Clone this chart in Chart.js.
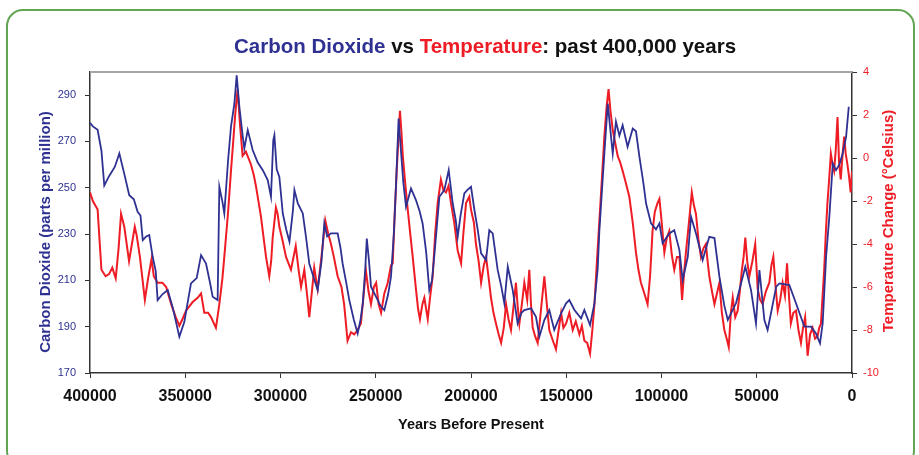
<!DOCTYPE html>
<html>
<head>
<meta charset="utf-8">
<script src="https://cdn.jsdelivr.net/npm/chart.js@4.4.1/dist/chart.umd.min.js"></script>
<style>
  html, body { margin: 0; padding: 0; background: #fff; }
  #wrap { position: relative; width: 919px; height: 455px; overflow: hidden; }
  #frame {
    position: absolute; left: 6px; top: 9px; width: 905px; height: 455px;
    border: 2px solid #62a553; border-radius: 17px; pointer-events: none;
  }
</style>
</head>
<body>
<div id="wrap">
  <canvas id="chart" width="919" height="455"></canvas>
  <div id="frame"></div>
</div>
<script>
// CO2 (ppm)
const co2Years = [
  400000, 398500, 396000, 394000, 392500, 390000, 387000, 384600, 382000, 379400,
  377000, 375000, 373500, 372300, 370500, 368900, 367100, 365500, 364500, 362000,
  359200, 356500, 353100, 350500, 347000, 344000, 341700, 339100, 337000, 335600,
  333000, 332100, 330500, 329500, 327500, 326000, 324200, 323000, 321600, 319900,
  319000, 317200, 314600, 312000, 309300, 306700, 305000, 303800, 303200, 302000,
  300600, 298800, 297000, 295300, 293500, 292700, 290900, 288300, 286500, 284900,
  282500, 280500, 278500, 277000, 275500, 273500, 270000, 268500, 267400, 265500,
  263900, 261500, 259500, 258000, 256800, 255500, 254700, 253500, 252500, 249800,
  247500, 245500, 243500, 242000, 240500, 239400, 238000, 236800, 235500, 234100,
  231500, 228900, 227000, 225400, 223500, 221900, 220500, 219300, 216600, 214000,
  211700, 209600, 208000, 207000, 205500, 203500, 202000, 200000, 198200, 196500,
  194700, 192100, 190400, 188600, 186000, 184000, 182500, 180700, 178100, 175500,
  173500, 172000, 168500, 165900, 164100, 161500, 158900, 156300, 152700, 150100,
  148400, 145700, 142200, 140500, 137500, 135200, 133500, 132600, 130000, 128200,
  127000, 125600, 123900, 122100, 120400, 117800, 115100, 113400, 111600, 109500,
  108100, 105500, 102900, 101100, 99400, 95900, 93300, 90600, 88900, 86200,
  84500, 81900, 78400, 74900, 72200, 69600, 67000, 65200, 60900, 56000,
  53000, 50400, 48600, 46000, 44300, 42000, 39800, 38100, 32900, 29400,
  25000, 21500, 18900, 16800, 15400, 13600, 11900, 10100, 8400, 6600,
  4900, 3100, 1700
];
const co2Values = [
  278, 276.5, 275, 266, 251, 255, 259, 264.8, 256, 246.8,
  245, 239.6, 238, 227.4, 229, 229.6, 220.2, 214, 201.5, 204,
  205.8, 198, 185.7, 192, 208.7, 211, 220.9, 217.3, 209, 202.9,
  201.5, 250.4, 244, 238.9, 262, 276.3, 286.4, 298.6, 285, 272.7,
  267, 274.9, 266.3, 261, 257.6, 253.3, 246.1, 270.5, 272.7, 258,
  254.7, 238.9, 232, 226.7, 240, 249, 243.2, 238.9, 228, 217.3,
  211, 205.8, 218, 234.6, 229, 230.3, 230.3, 224, 217.3, 209,
  201.5, 193, 187.1, 193, 200.1, 215, 228.1, 218, 207.3, 202.9,
  199, 197.2, 204, 211.6, 230, 250.4, 279.9, 266.3, 252, 241.8,
  249.7, 244.7, 240, 234.6, 222, 205.8, 210, 220.2, 246.1, 249,
  257.6, 243.2, 236, 228.8, 238, 247.6, 249, 250.4, 240.4, 232,
  221.7, 218.8, 231.7, 230.3, 214.5, 207, 200.1, 215.9, 205.8, 191.4,
  196, 197.2, 197.9, 194.3, 185.7, 192.9, 197.2, 188.6, 195.8, 200.1,
  201.5, 197.2, 193.6, 197.2, 190.7, 200.1, 215, 231.7, 264.8, 286.4,
  276.3, 264.8, 278.6, 272.5, 277, 267.7, 275.6, 274.4, 263.4, 252,
  243.2, 234.6, 232, 234.6, 226, 230.3, 231.7, 223.1, 210.1, 220.2,
  237.5, 230.3, 218.8, 228.8, 228.3, 211.6, 199, 192.9, 200.1, 215.9,
  205.8, 191.4, 214.5, 192.9, 188.6, 198, 207.3, 208.7, 208, 200.1,
  190, 190, 187.1, 182.8, 191.4, 220.2, 237.5, 260.5, 257.6, 260.1,
  264.8, 272, 285
];

// temperature change (°C)
const tempYears = [
  400000, 398500, 396000, 395000, 394000, 391800, 390000, 388300, 386500, 385000,
  383700, 382000, 379500, 378000, 376500, 375500, 373800, 371200, 369500, 367700,
  366500, 364500, 362000, 360000, 357400, 355000, 353100, 351500, 349600, 346100,
  343500, 341700, 340000, 338000, 336500, 333900, 332100, 330500, 329500, 327500,
  326000, 324800, 323700, 322500, 321300, 319900, 318200, 315500, 314000, 312900,
  310300, 307600, 305900, 304900, 304100, 302400, 301500, 300600, 299000, 297100,
  294500, 292000, 290500, 289200, 287500, 286000, 284900, 283500, 282300, 280500,
  278500, 276500, 275000, 273500, 272000, 270000, 268000, 266600, 264800, 263000,
  261300, 259500, 257800, 256500, 255200, 253800, 252500, 251000, 249800, 248500,
  247200, 245500, 243700, 242000, 241100, 240000, 239000, 237300, 236500, 235800,
  234500, 233200, 231800, 230600, 228900, 227800, 226800, 225500, 224500, 222700,
  221500, 220100, 218800, 217500, 215800, 214500, 213100, 211800, 210500, 208800,
  207000, 205200, 204000, 202600, 200900, 200000, 198500, 197400, 196000, 194700,
  193300, 192100, 190700, 189500, 188200, 186900, 185500, 184200, 182800, 181600,
  180300, 179000, 177800, 176400, 175500, 174600, 173300, 172000, 170500, 169400,
  168500, 167600, 166300, 165000, 163200, 161500, 160200, 158900, 157000, 155400,
  154000, 152700, 151500, 150100, 148400, 146600, 145000, 143100, 141800, 140500,
  139000, 137500, 136300, 135200, 133900, 132600, 131300, 130000, 128800, 127800,
  126800, 125600, 124300, 123000, 121700, 120400, 118600, 116900, 115100, 113400,
  112100, 110800, 109000, 107300, 106000, 104700, 103500, 102100, 101100, 100200,
  98500, 97200, 95900, 94600, 93300, 91900, 90600, 89200, 88200, 87200,
  85600, 84100, 83000, 81900, 80600, 79300, 78000, 76700, 75800, 74900,
  73500, 72200, 70900, 69600, 68300, 67000, 65800, 64700, 63600, 62600,
  61300, 60000, 58900, 57800, 56900, 56000, 55000, 53900, 52300, 50800,
  49500, 48200, 46900, 45200, 43400, 42300, 41300, 40100, 39000, 37700,
  36400, 35200, 34100, 33100, 32100, 30800, 29400, 28100, 26800, 25700,
  24600, 23300, 22000, 20700, 19400, 18100, 17200, 16300, 15500, 14600,
  13800, 12900, 12000, 11100, 10200, 9400, 8500, 7600, 6800, 5900,
  5000, 4100, 3300, 2400, 1500, 700, 0
];
const tempValues = [
  -1.6, -2.0, -2.4, -3.8, -5.2, -5.5, -5.4, -5.1, -5.6, -4.2,
  -2.6, -3.2, -4.8, -4.0, -3.2, -3.6, -4.6, -6.6, -5.6, -4.7,
  -5.5, -5.8, -5.8, -6.0, -6.8, -7.4, -7.8, -7.5, -7.1, -6.7,
  -6.5, -6.3, -7.2, -7.2, -7.4, -7.9, -6.8, -5.6, -4.6, -2.5,
  -0.6, 0.8, 2.1, 3.2, 1.6, 0.1, 0.3, -0.3, -0.8, -1.3,
  -2.7, -4.6, -5.5, -4.8, -3.7, -2.3, -2.6, -3.2, -3.8, -4.6,
  -5.2, -4.1, -5.2, -6.0, -5.2, -6.4, -7.4, -6.2, -5.1, -6.1,
  -4.6, -2.9, -3.5, -4.0, -4.6, -5.5, -6.0, -6.8, -8.5, -8.1,
  -8.2, -8.0, -7.7, -6.5, -5.2, -6.2, -6.8, -6.0, -5.8, -6.8,
  -7.2, -6.3, -5.8, -5.0, -4.9, -2.5, -0.6, 2.2, 1.2, 0.1,
  -1.2, -2.4, -3.6, -4.6, -6.1, -7.0, -7.5, -6.8, -6.5, -7.5,
  -6.5, -5.5, -3.5, -2.1, -1.0, -1.5, -1.6, -1.3, -2.1, -3.0,
  -4.3, -4.9, -3.5, -2.1, -1.8, -2.4, -3.0, -4.0, -4.8, -5.8,
  -5.0, -4.6, -5.6, -6.5, -7.2, -7.7, -8.2, -8.6, -7.9, -6.8,
  -7.5, -8.0, -7.0, -5.8, -6.9, -7.7, -6.8, -5.8, -6.6, -5.2,
  -6.8, -7.9, -8.3, -8.6, -7.0, -5.5, -6.8, -8.0, -8.5, -8.9,
  -8.0, -7.2, -7.9, -7.7, -7.2, -8.0, -7.6, -8.2, -7.8, -8.5,
  -8.6, -9.1, -8.0, -6.8, -4.8, -2.9, -1.0, 1.0, 2.4, 3.2,
  2.2, 1.3, 0.7, 0.1, -0.2, -0.6, -1.2, -1.8, -3.0, -4.4,
  -5.2, -5.8, -6.3, -6.8, -5.5, -3.4, -2.5, -2.1, -1.9, -2.7,
  -4.4, -3.7, -3.4, -4.5, -5.2, -4.6, -4.6, -6.6, -5.4, -4.4,
  -3.0, -1.6, -2.2, -2.6, -3.8, -4.6, -4.2, -4.0, -4.8, -5.5,
  -6.2, -6.8, -6.3, -5.8, -7.2, -8.0, -8.4, -8.8, -7.2, -6.5,
  -7.4, -7.1, -6.2, -5.2, -4.6, -3.7, -4.8, -5.5, -4.8, -4.0,
  -6.1, -6.6, -6.8, -6.2, -5.8, -5.0, -4.6, -6.0, -7.1, -6.6,
  -5.8, -6.4, -4.9, -6.4, -7.7, -7.2, -7.1, -8.0, -8.6, -7.9,
  -7.4, -9.2, -8.2, -7.9, -8.4, -8.3, -7.9, -7.7, -6.5, -5.2,
  -3.6, -2.1, -1.0, 0.2, -0.3, -0.6, 0.4, 1.9, -0.2, -1.0,
  0.1, 1.0, 0.2, -0.3, -0.9, -1.6, -0.6
];

const co2Ticks = [170, 190, 210, 230, 250, 270, 290];

const co2Color = '#2e3192';
const tempColor = '#ee1c25';
const axisColor = '#333333';
const fontFamily = '"Liberation Sans", Arial, sans-serif';

const titleParts = [
  ['Carbon Dioxide', co2Color],
  [' vs ', '#111'],
  ['Temperature', tempColor],
  [': past 400,000 years', '#111']
];

Chart.defaults.font.family = fontFamily;

function sideTitle(ctx, text, x, y, color) {
  ctx.save();
  ctx.translate(x, y);
  ctx.rotate(-Math.PI / 2);
  ctx.textAlign = 'center';
  ctx.textBaseline = 'middle';
  ctx.font = 'bold 15px ' + fontFamily;
  ctx.fillStyle = color;
  ctx.fillText(text, 0, 0);
  ctx.restore();
}

const decorations = {
  id: 'decorations',
  afterDraw(chart) {
    const ctx = chart.ctx;
    const area = chart.chartArea;
    ctx.save();

    // grey frame line along the top of the plot area
    ctx.strokeStyle = '#a6a6a6';
    ctx.lineWidth = 2;
    ctx.beginPath();
    ctx.moveTo(area.left, area.top);
    ctx.lineTo(area.right, area.top);
    ctx.stroke();

    // multi-coloured title
    ctx.font = 'bold 20.5px ' + fontFamily;
    ctx.textBaseline = 'middle';
    ctx.textAlign = 'left';
    let total = 0;
    titleParts.forEach(p => { total += ctx.measureText(p[0]).width; });
    let x = 485 - total / 2;
    titleParts.forEach(p => {
      ctx.fillStyle = p[1];
      ctx.fillText(p[0], x, 47);
      x += ctx.measureText(p[0]).width;
    });
    ctx.restore();

    // both axis titles read bottom-to-top
    sideTitle(ctx, 'Carbon Dioxide (parts per million)', 46, 232, co2Color);
    sideTitle(ctx, 'Temperature Change (°Celsius)', 889, 221, tempColor);
  }
};

new Chart(document.getElementById('chart'), {
  type: 'line',
  data: {
    datasets: [
      {
        label: 'Carbon Dioxide',
        data: co2Years.map((yr, i) => ({ x: yr, y: co2Values[i] })),
        yAxisID: 'y',
        borderColor: co2Color,
        borderWidth: 1.8,
        pointRadius: 0,
        tension: 0,
        order: 0
      },
      {
        label: 'Temperature',
        data: tempYears.map((yr, i) => ({ x: yr, y: tempValues[i] })),
        yAxisID: 'y2',
        borderColor: tempColor,
        borderWidth: 2,
        pointRadius: 0,
        tension: 0,
        order: 1
      }
    ]
  },
  options: {
    responsive: false,
    animation: false,
    devicePixelRatio: 1,
    layout: { padding: { top: 72, left: 0, right: 0, bottom: 0 } },
    plugins: {
      legend: { display: false },
      tooltip: { enabled: false }
    },
    scales: {
      x: {
        type: 'linear',
        reverse: true,
        min: 0,
        max: 400000,
        afterFit: s => { s.height = 82; },
        border: { display: true, color: axisColor, width: 1.5 },
        grid: { drawOnChartArea: false, tickLength: 5, color: axisColor },
        ticks: {
          stepSize: 50000,
          autoSkip: false,
          maxRotation: 0,
          padding: 9,
          color: '#111',
          font: { size: 16, weight: 'bold' },
          callback: v => String(v)
        },
        title: {
          display: true,
          text: 'Years Before Present',
          color: '#111',
          font: { size: 14.5, weight: 'bold' },
          padding: { top: 0, bottom: 21 }
        }
      },
      y: {
        position: 'left',
        min: 170,
        max: 300,
        afterFit: s => { s.width = 90; },
        afterBuildTicks: s => { s.ticks = co2Ticks.map(v => ({ value: v })); },
        border: { display: true, color: axisColor, width: 1.5 },
        grid: { drawOnChartArea: false, tickLength: 5, color: axisColor },
        ticks: { padding: 9, color: co2Color, font: { size: 11 } }
      },
      y2: {
        position: 'right',
        min: -10,
        max: 4,
        afterFit: s => { s.width = 67; },
        border: { display: true, color: axisColor, width: 1.5 },
        grid: { drawOnChartArea: false, tickLength: 5, color: axisColor },
        ticks: { stepSize: 2, padding: 6, color: tempColor, font: { size: 11 } }
      }
    }
  },
  plugins: [decorations]
});
</script>
</body>
</html>
